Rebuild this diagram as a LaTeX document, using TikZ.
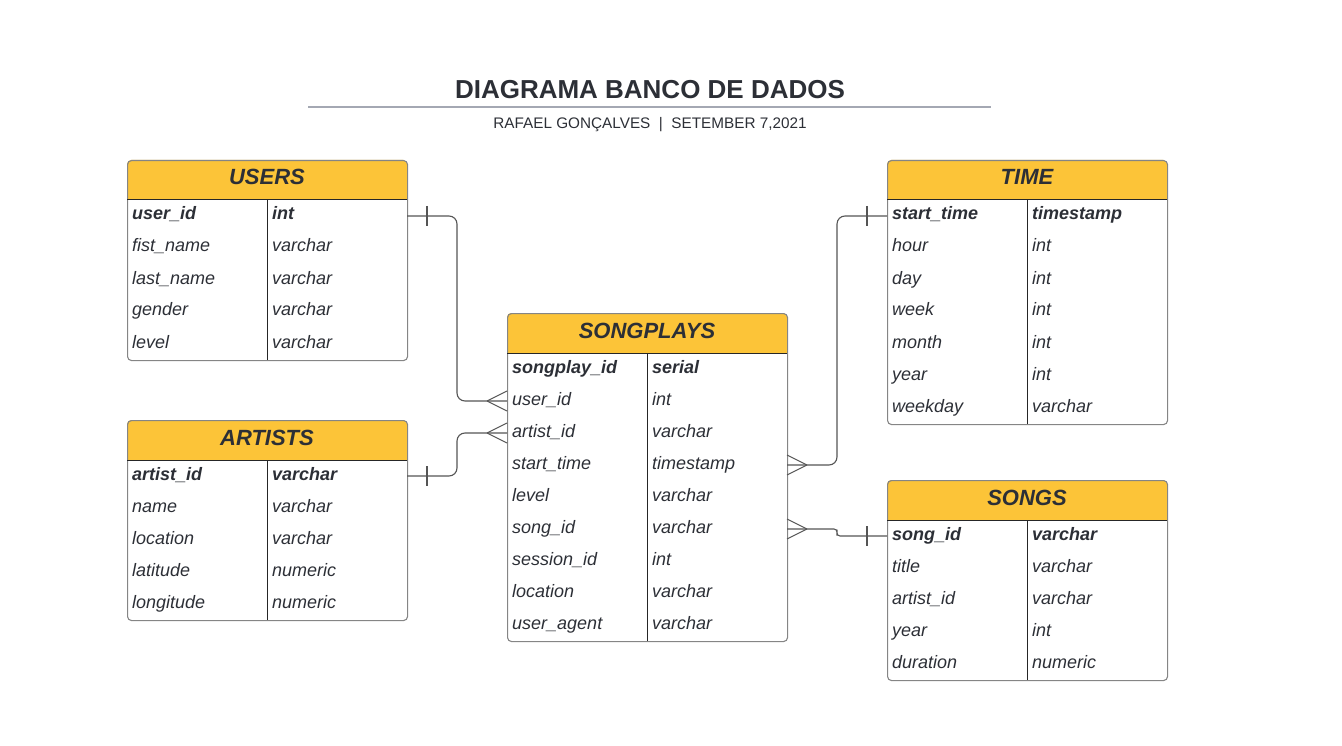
\documentclass[tikz,border=0pt]{standalone}
\usepackage{fontspec}
\setmainfont{Liberation Sans}
\usetikzlibrary{calc}

\definecolor{inkgray}{HTML}{2C2F36}
\definecolor{headyellow}{HTML}{FCC438}
\definecolor{framegray}{HTML}{858585}
\definecolor{rulegray}{HTML}{A4A8B3}
\definecolor{linkgray}{HTML}{555555}

\tikzset{
  tablebox/.style={draw=framegray, line width=1.1pt, rounded corners=4pt, minimum width=280, minimum height=#1, inner sep=0pt, anchor=north west},
  headtext/.style={text=inkgray, font=\fontsize{22}{24}\selectfont\bfseries\itshape, anchor=base, inner sep=0pt},
  fieldtext/.style={text=inkgray, font=\fontsize{18}{20}\selectfont\itshape, anchor=base west, inner sep=0pt},
  rowrule/.style={draw=black!85, line width=1pt},
  link/.style={draw=linkgray, line width=1.1pt},
}

\begin{document}
\begin{tikzpicture}[x=1pt,y=-1pt]
            \useasboundingbox (0,0) rectangle (1342,746);
            \def\footlen{20}
            \newcommand\entity[6]{% {<name>}{<x>}{<y>}{<rows>}{<title>}{<field/type list>}
                \fill[headyellow, rounded corners=4pt] (#2,#3) rectangle ++(280,40);
                \fill[headyellow] (#2,#3+20) rectangle ++(280,20);
                \node[tablebox=40+32*#4] (#1) at (#2,#3) {};
                \node[headtext] (#1-title) at (#2+140,#3+25) {#5};
                \draw[rowrule] (#2,#3+40) -- ++(280,0);
                \draw[rowrule] (#2+140,#3+40) -- ++(0,32*#4);
                \foreach \f/\t [count=\i] in {#6} {
                    \ifnum\i=1 \def\fs{\bfseries}\else\def\fs{}\fi
                    \node[fieldtext] (#1-\i-field) at (#2+5,#3+40+32*\i-12) {\fs\f};
                    \node[fieldtext] (#1-\i-type) at (#2+145,#3+40+32*\i-12) {\fs\t};
                    \coordinate (#1-\i-w) at (#2,#3+40+32*\i-16);
                    \coordinate (#1-\i-e) at (#2+280,#3+40+32*\i-16);
                }
            }
            \newcommand\manyend[2]{% {<edge point>}{<offset>}
                \draw[link] #1 ++(#2,0) coordinate (fork) -- ++(-#2,-10) (fork) -- ++(-#2,10);
            }
            \newcommand\oneend[2]{% {<edge point>}{<offset>}
                \draw[link] #1 ++(#2,-10) -- ++(0,20);
            }

            % title
            \node[text=inkgray, font=\fontsize{26}{28}\selectfont\bfseries, anchor=base] (title) at (650,98.5) {DIAGRAMA BANCO DE DADOS};
            \draw[draw=rulegray, line width=1.6pt] (308,107) -- (991,107);
            \node[text=inkgray, font=\fontsize{15.3}{17}\selectfont, anchor=base] (subtitle) at (650,128.5) {RAFAEL GONÇALVES~~|~~SETEMBER 7,2021};

            % tables
            \entity{users}{127}{160}{5}{USERS}{user\_id/int, fist\_name/varchar, last\_name/varchar, gender/varchar, level/varchar}
            \entity{artists}{127}{420}{5}{ARTISTS}{artist\_id/varchar, name/varchar, location/varchar, latitude/numeric, longitude/numeric}
            \entity{songplays}{507}{313}{9}{SONGPLAYS}{songplay\_id/serial, user\_id/int, artist\_id/varchar, start\_time/timestamp, level/varchar, song\_id/varchar, session\_id/int, location/varchar, user\_agent/varchar}
            \entity{time}{887}{160}{7}{TIME}{start\_time/timestamp, hour/int, day/int, week/int, month/int, year/int, weekday/varchar}
            \entity{songs}{887}{480}{5}{SONGS}{song\_id/varchar, title/varchar, artist\_id/varchar, year/int, duration/numeric}

            % relations
            \draw[link, rounded corners=8] (users-1-e) -| ($(users-1-e)!.5!(songplays-2-w)$) |- (songplays-2-w);
            \oneend{(users-1-e)}{\footlen}
            \manyend{(songplays-2-w)}{-\footlen}

            \draw[link, rounded corners=8] (artists-1-e) -| ($(artists-1-e)!.5!(songplays-3-w)$) |- (songplays-3-w);
            \oneend{(artists-1-e)}{\footlen}
            \manyend{(songplays-3-w)}{-\footlen}

            \draw[link, rounded corners=8] (songplays-4-e) -| ($(songplays-4-e)!.5!(time-1-w)$) |- (time-1-w);
            \manyend{(songplays-4-e)}{\footlen}
            \oneend{(time-1-w)}{-\footlen}

            \draw[link, rounded corners=3] (songplays-6-e) -| ($(songplays-6-e)!.5!(songs-1-w)$) |- (songs-1-w);
            \manyend{(songplays-6-e)}{\footlen}
            \oneend{(songs-1-w)}{-\footlen}
\end{tikzpicture}
\end{document}
